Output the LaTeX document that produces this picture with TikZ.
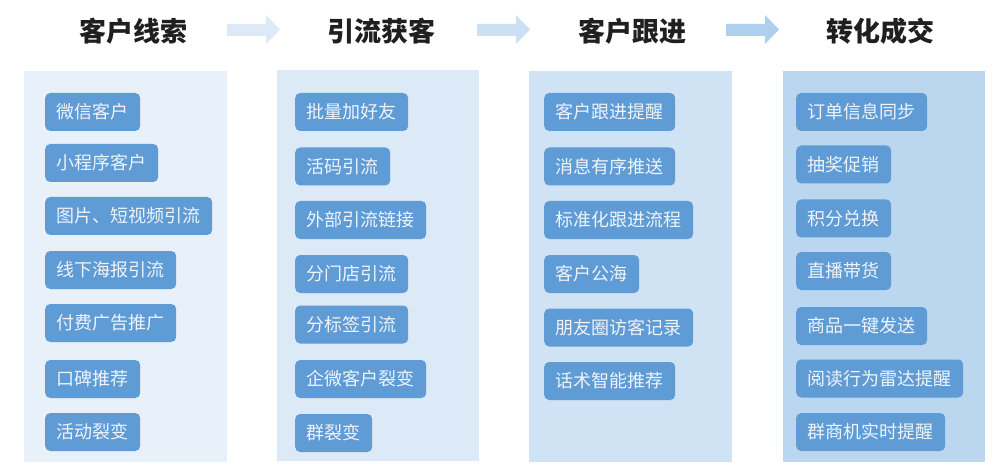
\documentclass[tikz,border=0pt]{standalone}
\usepackage{fontspec}
\newfontfamily\cjk{Noto Sans CJK SC}
\definecolor{pA}{HTML}{E8F0FA}
\definecolor{pB}{HTML}{DCE9F6}
\definecolor{pC}{HTML}{D0E3F4}
\definecolor{pD}{HTML}{BBD7EF}
\definecolor{aA}{HTML}{DDE9F6}
\definecolor{aB}{HTML}{CCE0F3}
\definecolor{aC}{HTML}{AFCFEE}
\definecolor{boxc}{HTML}{5F9BD5}
\definecolor{boxt}{HTML}{EEF4FB}
\tikzset{
  head/.style={font=\cjk\bfseries\fontsize{27}{30}\selectfont,text=black!88,inner sep=0pt},
  item/.style={fill=boxc,text=boxt,rounded corners=5pt,anchor=west,minimum height=38pt,
    inner xsep=11.5pt,inner ysep=0pt,font=\cjk\fontsize{18}{21}\selectfont}
}
\begin{document}
\begin{tikzpicture}[x=1pt,y=-1pt]
\useasboundingbox[fill=white] (0,0) rectangle (1000,470);
% panels
\fill[pA] (24,71) rectangle (227,462);
\fill[pB] (277,70) rectangle (479,461);
\fill[pC] (529,71) rectangle (732,462);
\fill[pD] (783,71) rectangle (985,462);
% headers
\node[head] (h1) at (133,31) {客户线索};
\node[head] (h2) at (381,31) {引流获客};
\node[head] (h3) at (632,31) {客户跟进};
\node[head] (h4) at (880,31) {转化成交};
% arrows
\foreach \xa/\c in {227/aA,477/aB,726/aC}{
  \fill[\c] (\xa,24) -- (\xa+39,24) -- (\xa+39,15) -- (\xa+53,29.5) -- (\xa+39,44) -- (\xa+39,36) -- (\xa,36) -- cycle;
}
% column 1
\node[item] (a1) at (45,112) {微信客户};
\node[item] (a2) at (45,163) {小程序客户};
\node[item] (a3) at (45,216) {图片、短视频引流};
\node[item] (a4) at (45,270) {线下海报引流};
\node[item] (a5) at (45,323) {付费广告推广};
\node[item] (a6) at (45,379) {口碑推荐};
\node[item] (a7) at (45,432) {活动裂变};
% column 2
\node[item] (b1) at (295,112) {批量加好友};
\node[item] (b2) at (295,166.5) {活码引流};
\node[item] (b3) at (295,220) {外部引流链接};
\node[item] (b4) at (295,274) {分门店引流};
\node[item] (b5) at (295,324.5) {分标签引流};
\node[item] (b6) at (295,379) {企微客户裂变};
\node[item] (b7) at (295,433) {群裂变};
% column 3
\node[item] (c1) at (544,112) {客户跟进提醒};
\node[item] (c2) at (544,166.5) {消息有序推送};
\node[item] (c3) at (544,220) {标准化跟进流程};
\node[item] (c4) at (544,274) {客户公海};
\node[item] (c5) at (544,327.5) {朋友圈访客记录};
\node[item] (c6) at (544,381) {话术智能推荐};
% column 4
\node[item] (d1) at (796,112) {订单信息同步};
\node[item] (d2) at (796,164.5) {抽奖促销};
\node[item] (d3) at (796,218.5) {积分兑换};
\node[item] (d4) at (796,271) {直播带货};
\node[item] (d5) at (796,326) {商品一键发送};
\node[item] (d6) at (796,378.5) {阅读行为雷达提醒};
\node[item] (d7) at (796,432) {群商机实时提醒};
\end{tikzpicture}
\end{document}
